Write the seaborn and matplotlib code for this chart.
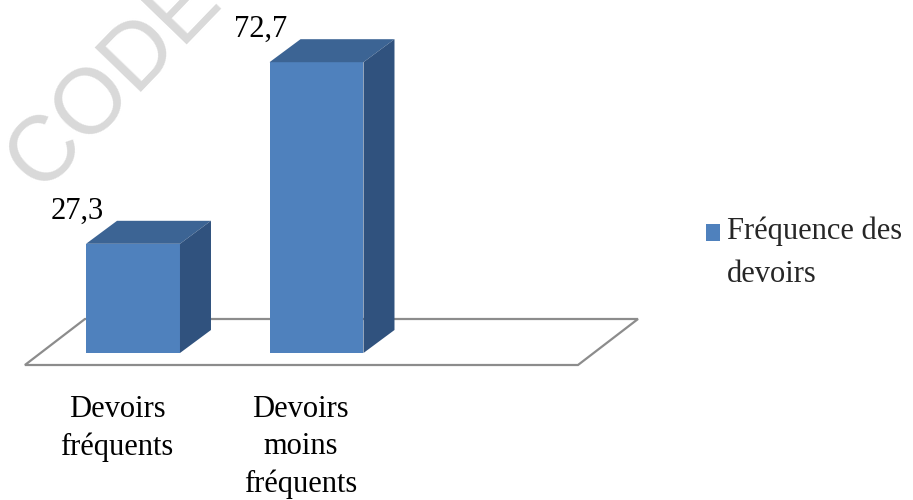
import matplotlib
matplotlib.use("Agg")
import matplotlib.pyplot as plt
import seaborn as sns
import pandas as pd
from matplotlib.patches import Polygon, Rectangle
from matplotlib.legend_handler import HandlerPatch
from matplotlib.transforms import ScaledTranslation

# data
categories = ["Devoirs\nfréquents", "Devoirs\nmoins\nfréquents"]
values = [27.3, 72.7]
series_name = "Fréquence des\ndevoirs"

# colours of the excel-ish 3d bars
front_col = "#4f81bd"
top_col = "#3c6494"
side_col = "#30527e"
floor_col = "#8c8c8c"

# 3d depth of bars and floor (data units)
bar_dx, bar_dy = 0.169, 5.75
floor_x0, floor_x1, floor_y0 = -0.589, 2.425, -3.0
floor_dx, floor_dy = 0.327, 11.5

sns.set_theme(style="white")
plt.rcParams["font.family"] = ["Liberation Serif", "DejaVu Serif"]

df = pd.DataFrame({"cat": categories, "val": values})

fig = plt.figure(figsize=(9.13, 5.0), dpi=100)
ax = fig.add_axes([0, 0.216, 1, 0.784])
sns.barplot(data=df, x="cat", y="val", color=front_col, saturation=1,
            width=0.512, linewidth=0, zorder=3, ax=ax)

bars = list(ax.patches)

# floor of the 3d chart
floor = Polygon([(floor_x0, floor_y0), (floor_x1, floor_y0),
                 (floor_x1 + floor_dx, floor_y0 + floor_dy),
                 (floor_x0 + floor_dx, floor_y0 + floor_dy)],
                closed=True, fc="white", ec=floor_col, lw=1.6, zorder=1)
ax.add_patch(floor)

for p, v in zip(bars, values):
    x0, w, h = p.get_x(), p.get_width(), p.get_height()
    top = Polygon([(x0, h), (x0 + w, h), (x0 + w + bar_dx, h + bar_dy),
                   (x0 + bar_dx, h + bar_dy)], closed=True, fc=top_col, lw=0, zorder=3)
    side = Polygon([(x0 + w, 0), (x0 + w + bar_dx, bar_dy),
                    (x0 + w + bar_dx, h + bar_dy), (x0 + w, h)],
                   closed=True, fc=side_col, lw=0, zorder=3)
    ax.add_patch(top)
    ax.add_patch(side)
    ax.text(x0 - 0.05, h + 6.25, f"{v:.1f}".replace(".", ","),
            ha="center", va="baseline", fontsize=22, color="black")

ax.set_xlim(-0.7248, 4.2507)
ax.set_ylim(-9.75, 88.25)
ax.set_yticks([])
ax.set_xlabel("")
ax.set_ylabel("")
for s in ax.spines.values():
    s.set_visible(False)
ax.tick_params(axis="x", length=0, pad=2, labelsize=22, colors="black")
shift = ScaledTranslation(-16 / 100, 0, fig.dpi_scale_trans)
for lab in ax.get_xticklabels():
    lab.set_transform(lab.get_transform() + shift)
    lab.set_linespacing(1.38)


def square(legend, orig_handle, xdescent, ydescent, width, height, fontsize):
    return Rectangle((-xdescent, -ydescent + 0.68 * fontsize), width, height)


leg = ax.legend([Rectangle((0, 0), 1, 1, fc=front_col, lw=0)], [series_name],
                handler_map={Rectangle: HandlerPatch(patch_func=square)},
                loc="upper left", bbox_to_anchor=(0.773, 0.566),
                bbox_transform=fig.transFigure, frameon=False, fontsize=22,
                handlelength=0.46, handleheight=0.46, handletextpad=0.22,
                borderpad=0, borderaxespad=0)
for t in leg.get_texts():
    t.set_linespacing(1.6)

# watermark
fig.text(132 / 913, 1 - 97 / 500, "CODE", rotation=46, rotation_mode="anchor",
         ha="center", va="baseline", fontsize=66, color="#d9d9d9",
         family="Liberation Sans", zorder=0)

fig.savefig("out.png", dpi=100)
